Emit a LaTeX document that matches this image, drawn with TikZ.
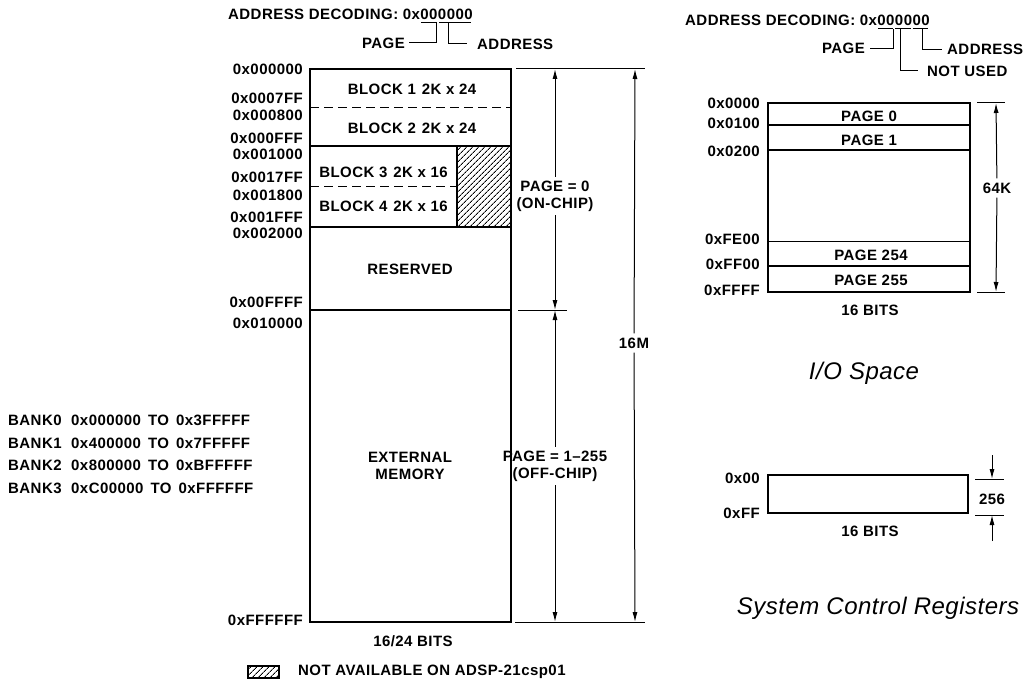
\documentclass[tikz,border=0pt]{standalone}
\usepackage{fontspec}
\setmainfont{Liberation Sans}
\newfontfamily\lblfont[LetterSpace=3]{Liberation Sans}
\newfontfamily\capfont[LetterSpace=2]{Liberation Sans}
\usetikzlibrary{arrows.meta,patterns.meta,calc}
\newcommand{\gapTO}{\hspace{7pt}TO\hspace{7pt}}
\begin{document}
\begin{tikzpicture}[x=1pt,y=-1pt,
  lbl/.style={font=\lblfont\bfseries\fontsize{15}{17}\selectfont,inner sep=0pt},
  captxt/.style={font=\capfont\itshape\fontsize{24}{28}\selectfont,inner sep=0pt},
  box/.style={line width=2.2pt},
  sep/.style={line width=1.4pt},
  dsep/.style={line width=1.4pt,dash pattern=on 9pt off 5pt},
  dim/.style={line width=1pt},
  arr/.style={line width=1pt,-{Latex[length=10pt,width=5pt]}},
  hatch/.style={pattern={Lines[angle=45,distance=4pt,line width=1pt]}},
  addr/.style={lbl,anchor=east},
]
\useasboundingbox (0,0) rectangle (1027,682);

% ---------- address decoding (left)
\node[lbl,anchor=base west] (decL) at (228,19.5) {ADDRESS DECODING: 0x};
\node[lbl,anchor=base west] (pgL) at (decL.base east) {00};
\node[lbl,anchor=base west] (adL) at (pgL.base east) {0000};
\node[lbl,anchor=east,inner xsep=4pt] (pageL) at (409,43) {PAGE};
\node[lbl,anchor=west,inner xsep=10pt] (addrL) at (467,44) {ADDRESS};
\draw[dim] ($(pgL.south west)+(0.5,2.5)$) -- ($(pgL.south east)+(-1.5,2.5)$) |- (pageL.east);
\draw[dim] ($(adL.south west)+(1,2.5)$) -- ($(adL.south east)+(-1.5,2.5)$);
\draw[dim] ($(adL.south west)+(11,2.5)$) |- (addrL.west);

% ---------- address decoding (right)
\node[lbl,anchor=base west] (decR) at (685,26) {ADDRESS DECODING: 0x};
\node[lbl,anchor=base west] (g1) at (decR.base east) {00};
\node[lbl,anchor=base west] (g2) at (g1.base east) {00};
\node[lbl,anchor=base west] (g3) at (g2.base east) {00};
\node[lbl,anchor=east,inner xsep=5pt] (pageR) at (870,48.5) {PAGE};
\node[lbl,anchor=west,inner xsep=9pt] (nuR) at (918,71) {NOT USED};
\node[lbl,anchor=west,inner xsep=5pt] (adR) at (942,49.5) {ADDRESS};
\foreach \g in {g1,g2,g3}
  \draw[dim] ($(\g.south west)+(0.5,2.5)$) -- ($(\g.south east)+(-1.5,2.5)$);
\draw[dim] ($(g1.south east)+(-1.5,2.5)$) |- (pageR.east);
\draw[dim] ($(g2.south west)+(6,2.5)$) |- (nuR.west);
\draw[dim] ($(g3.south west)+(10,2.5)$) |- (adR.west);

% ---------- main memory map
\fill[hatch] (457,146) rectangle (511,227);
\draw[dsep] (310,107.5) -- (511,107.5);
\draw[sep] (310,146) -- (511,146);
\draw[dsep] (310,186.5) -- (457,186.5);
\draw[sep] (457,146) -- (457,227);
\draw[sep] (310,227) -- (511,227);
\draw[sep] (310,310) -- (511,310);
\draw[box] (310,69) rectangle (511,622);

\node[lbl] (b1) at (412,89) {BLOCK 1\hspace{6pt}2K x 24};
\node[lbl] (b2) at (412,128) {BLOCK 2\hspace{6pt}2K x 24};
\node[lbl] (b3) at (383.5,172) {BLOCK 3\hspace{6pt}2K x 16};
\node[lbl] (b4) at (383.5,206) {BLOCK 4\hspace{6pt}2K x 16};
\node[lbl] (res) at (410,269) {RESERVED};
\node[lbl,align=center] (ext) at (410,466) {EXTERNAL\\MEMORY};
\node[lbl] (bits1) at (413,641) {16/24 BITS};

\node[addr] (l1) at (303,69) {0x000000};
\node[addr] (l2) at (303,98) {0x0007FF};
\node[addr] (l3) at (303,115) {0x000800};
\node[addr] (l4) at (303,138) {0x000FFF};
\node[addr] (l5) at (303,154) {0x001000};
\node[addr] (l6) at (303,177) {0x0017FF};
\node[addr] (l7) at (303,195) {0x001800};
\node[addr] (l8) at (303,217) {0x001FFF};
\node[addr] (l9) at (303,233) {0x002000};
\node[addr] (l10) at (303,302) {0x00FFFF};
\node[addr] (l11) at (303,323) {0x010000};
\node[addr] (l12) at (303,620) {0xFFFFFF};

% dimension lines (main)
\draw[dim] (516,69) -- (645,69);
\draw[dim] (518,310) -- (567,310);
\draw[dim] (515,622) -- (645,622);
\coordinate (a0t) at (555,69);
\coordinate (a0b) at (555,310);
\coordinate (a1b) at (555,622);
\node[lbl,align=center,inner ysep=4pt] (pg0) at (555,196) {PAGE = 0\\(ON-CHIP)};
\draw[arr] (pg0) -- (a0t);
\draw[arr] (pg0) -- (a0b);
\node[lbl,align=center,inner ysep=4pt] (pg1) at (555,466) {PAGE = 1–255\\(OFF-CHIP)};
\draw[arr] (pg1) -- (a0b);
\draw[arr] (pg1) -- (a1b);
\coordinate (mt) at (635,69);
\coordinate (mb) at (635,622);
\node[lbl,inner ysep=4pt] (m16) at (634,343) {16M};
\draw[arr] (m16) -- (mt);
\draw[arr] (m16) -- (mb);

% banks
\node[lbl,anchor=west] (bk0) at (8,420) {BANK0};
\node[lbl,anchor=west] (bk1) at (8,443) {BANK1};
\node[lbl,anchor=west] (bk2) at (8,465) {BANK2};
\node[lbl,anchor=west] (bk3) at (8,488) {BANK3};
\node[lbl,anchor=west] (r0) at (71,420) {0x000000\gapTO 0x3FFFFF};
\node[lbl,anchor=west] (r1) at (71,443) {0x400000\gapTO 0x7FFFFF};
\node[lbl,anchor=west] (r2) at (71,465) {0x800000\gapTO 0xBFFFFF};
\node[lbl,anchor=west] (r3) at (71,488) {0xC00000\gapTO 0xFFFFFF};

% legend
\fill[hatch] (248,666) rectangle (279,678);
\draw[sep] (248,666) rectangle (279,678);
\node[lbl,anchor=west] (leg) at (298,672) {NOT AVAILABLE ON ADSP-21csp01};

% ---------- I/O space
\draw[sep] (768,125) -- (970,125);
\draw[sep] (768,150) -- (970,150);
\draw[sep] (768,241.5) -- (970,241.5);
\draw[sep] (768,266) -- (970,266);
\draw[box] (768,103) rectangle (970,292);
\node[lbl] (p0) at (869,116) {PAGE 0};
\node[lbl] (p1) at (869,140) {PAGE 1};
\node[lbl] (p254) at (871,255) {PAGE 254};
\node[lbl] (p255) at (871,280) {PAGE 255};
\node[lbl] (bits2) at (870,310) {16 BITS};
\node[addr] (i1) at (760,103) {0x0000};
\node[addr] (i2) at (760,123) {0x0100};
\node[addr] (i3) at (760,151) {0x0200};
\node[addr] (i4) at (760,239) {0xFE00};
\node[addr] (i5) at (760,264) {0xFF00};
\node[addr] (i6) at (760,290) {0xFFFF};
\draw[dim] (977,103) -- (1005,103);
\draw[dim] (977,292) -- (1005,292);
\coordinate (kt) at (996,103);
\coordinate (kb) at (996,292);
\node[lbl,inner ysep=4pt] (k64) at (997,188) {64K};
\draw[arr] (k64) -- (kt);
\draw[arr] (k64) -- (kb);
\node[captxt] (io) at (864,373) {I/O Space};

% ---------- system control registers
\draw[box] (768,475) rectangle (968,513);
\node[addr] (s0) at (760,478) {0x00};
\node[addr] (sF) at (760,513) {0xFF};
\node[lbl] (bits3) at (870,531) {16 BITS};
\draw[dim] (975,479) -- (1004,479);
\draw[dim] (975,515) -- (1004,515);
\coordinate (st) at (992,455);
\coordinate (ste) at (992,479);
\coordinate (sb) at (992,541);
\coordinate (sbe) at (992,515);
\draw[arr] (st) -- (ste);
\draw[arr] (sb) -- (sbe);
\node[lbl] (n256) at (992,499) {256};
\node[captxt] (scr) at (878,608) {System Control Registers};
\end{tikzpicture}
\end{document}
